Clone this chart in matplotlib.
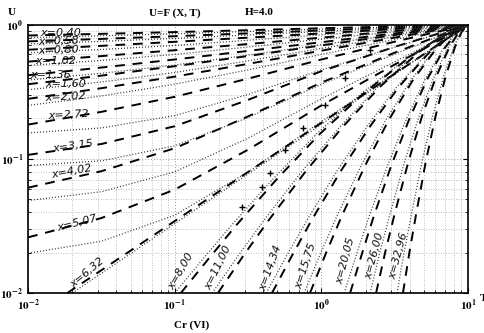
import matplotlib
matplotlib.use("Agg")
import matplotlib.pyplot as plt
import numpy as np

plt.rcParams['font.family'] = ['Liberation Serif', 'DejaVu Serif']
plt.rcParams['mathtext.fontset'] = 'stix'

# ---- data ----
x_labels = ["x=0,40", "x=0,58", "x=0,80", "x=1,02", "x=1,36", "x=1,60", "x=2,02",
            "x=2,72", "x=3,15", "x=4,02", "x=5,07", "x=6,32", "x=8,00", "x=11,00",
            "x=14,34", "x=15,75", "x=20,05", "x=26,00", "x=32,96"]

C_left = [0.01, 0.0316, 0.1, 0.316, 1.0, 3.16, 10.0]
dash_U_left = [
    [0.83, 0.854, 0.88, 0.909, 0.94, 0.970, 1.0],
    [0.75, 0.783, 0.82, 0.861, 0.905, 0.951, 1.0],
    [0.65, 0.695, 0.745, 0.800, 0.86, 0.927, 1.0],
    [0.53, 0.583, 0.645, 0.717, 0.80, 0.894, 1.0],
    [0.42, 0.479, 0.55, 0.637, 0.74, 0.860, 1.0],
    [0.36, 0.417, 0.49, 0.584, 0.70, 0.837, 1.0],
    [0.28, 0.336, 0.41, 0.510, 0.64, 0.800, 1.0],
    [0.18, 0.224, 0.29, 0.396, 0.55, 0.746, 1.0],
    [0.107, 0.129, 0.175, 0.275, 0.45, 0.683, 1.0],
    [0.061, 0.0809, 0.12, 0.207, 0.37, 0.618, 1.0],
    [0.026, 0.0362, 0.059, 0.117, 0.25, 0.504, 1.0],
]
dot_U_left = [
    [0.80, 0.826, 0.855, 0.889, 0.925, 0.962, 1.0],
    [0.718, 0.751, 0.79, 0.837, 0.89, 0.944, 1.0],
    [0.617, 0.653, 0.70, 0.765, 0.84, 0.917, 1.0],
    [0.496, 0.541, 0.60, 0.681, 0.78, 0.885, 1.0],
    [0.386, 0.434, 0.50, 0.593, 0.71, 0.844, 1.0],
    [0.327, 0.374, 0.44, 0.537, 0.665, 0.816, 1.0],
    [0.250, 0.294, 0.36, 0.460, 0.60, 0.775, 1.0],
    [0.156, 0.170, 0.21, 0.302, 0.46, 0.679, 1.0],
    [0.0893, 0.0966, 0.125, 0.203, 0.36, 0.603, 1.0],
    [0.0489, 0.0569, 0.08, 0.1425, 0.28, 0.528, 1.0],
    [0.0198, 0.0243, 0.038, 0.0798, 0.19, 0.433, 1.0],
]

dash_C_632 = [0.0185, 0.43, 10.0]
dot_C_632 = [0.0200, 0.45, 10.0]
U_632 = [0.01, 0.1, 1.0]

U13 = [0.01, 0.0180, 0.0319, 0.0721, 0.154, 0.309, 0.568, 0.794, 1.0]
U14 = [0.01, 0.0188, 0.0344, 0.0805, 0.175, 0.347, 0.617, 0.832, 1.0]
U15 = [0.01, 0.0196, 0.0370, 0.0895, 0.196, 0.385, 0.664, 0.863, 1.0]
U155 = [0.01, 0.0200, 0.0384, 0.0942, 0.207, 0.404, 0.682, 0.879, 1.0]

dash_C_right = [
    [0.110, 0.170, 0.262, 0.505, 0.98, 1.95, 3.95, 6.30, 10.0],
    [0.197, 0.292, 0.433, 0.780, 1.41, 2.53, 4.56, 6.76, 10.0],
    [0.460, 0.627, 0.851, 1.35, 2.15, 3.40, 5.41, 7.35, 10.0],
    [0.836, 1.07, 1.37, 1.99, 2.89, 4.20, 6.08, 7.80, 10.0],
    [1.57, 1.89, 2.27, 3.00, 3.96, 5.22, 6.90, 8.31, 10.0],
    [2.36, 2.72, 3.15, 3.91, 4.85, 6.03, 7.48, 8.65, 10.0],
    [3.60, 3.98, 4.42, 5.14, 6.00, 7.00, 8.15, 9.03, 10.0],
]
dot_C_right = [
    [0.100, 0.156, 0.243, 0.475, 0.93, 1.89, 3.88, 6.25, 10.0],
    [0.180, 0.269, 0.402, 0.735, 1.35, 2.45, 4.48, 6.70, 10.0],
    [0.420, 0.577, 0.791, 1.27, 2.05, 3.29, 5.31, 7.28, 10.0],
    [0.762, 0.984, 1.27, 1.87, 2.76, 4.07, 5.97, 7.73, 10.0],
    [1.43, 1.74, 2.11, 2.83, 3.78, 5.05, 6.78, 8.24, 10.0],
    [2.15, 2.50, 2.93, 3.68, 4.63, 5.84, 7.35, 8.57, 10.0],
    [3.28, 3.66, 4.11, 4.84, 5.73, 6.78, 8.00, 8.95, 10.0],
]
U_right = [U13, U14, U14, U15, U15, U155, U155]

# experimental points (hand-marked crosses)
pts_C = [0.288, 0.394, 0.447, 0.565, 0.75, 1.06, 1.45, 2.14]
pts_U = [0.0438, 0.0618, 0.0786, 0.117, 0.170, 0.253, 0.402, 0.65]

# label anchors (data coords, lower-left of text) and rotation
lab_C = [0.0121, 0.0117, 0.0117, 0.0112, 0.0103, 0.0131, 0.0131, 0.0137, 0.0148,
         0.0146, 0.016, 0.021, 0.100, 0.180, 0.43, 0.75, 1.44, 2.25, 3.3]
lab_U = [0.80, 0.68, 0.585, 0.49, 0.39, 0.33, 0.26, 0.19, 0.108, 0.070, 0.028,
         0.0105, 0.0103, 0.0102, 0.0102, 0.0105, 0.0114, 0.0125, 0.0125]
lab_rot = [0, 2, 2, 0, 0, 0, 3, 3, 8, 10, 14, 40, 60, 64, 70, 72, 75, 75, 75]

fig = plt.figure(figsize=(4.85, 3.33), dpi=100)
ax = fig.add_axes([0.058, 0.12, 0.907, 0.806])
ax.set_xscale('log')
ax.set_yscale('log')
ax.set_xlim(0.01, 10)
ax.set_ylim(0.01, 1)

dash_kw = dict(color='black', lw=1.4, dashes=(5, 4))
dot_kw = dict(color='#333333', lw=0.9, dashes=(0.8, 1.6))

for U in dash_U_left:
    ax.plot(C_left, U, **dash_kw)
for U in dot_U_left:
    ax.plot(C_left, U, **dot_kw)
ax.plot(dash_C_632, U_632, **dash_kw)
ax.plot(dot_C_632, U_632, **dot_kw)
for Cs, U in zip(dash_C_right, U_right):
    ax.plot(Cs, U, **dash_kw)
for Cs, U in zip(dot_C_right, U_right):
    ax.plot(Cs, U, **dot_kw)

ax.plot(pts_C, pts_U, '+', color='black', ms=5, mew=1.0, ls='none')

for t, c, u, r in zip(x_labels, lab_C, lab_U, lab_rot):
    ax.text(c, u, t, fontsize=8, style='italic', rotation=r, family='DejaVu Sans',
            ha='left', va='bottom', rotation_mode='anchor', color='#111111')

ax.grid(True, which='major', color='#999999', ls=(0, (1, 2)), lw=0.7)
ax.grid(True, which='minor', color='#aaaaaa', ls=(0, (1, 2)), lw=0.6)
ax.tick_params(which='both', direction='in', top=False, right=True, labelsize=8)
ax.set_xticks([0.01, 0.1, 1, 10])
ax.set_xticklabels([r'$\mathbf{10^{-2}}$', r'$\mathbf{10^{-1}}$', r'$\mathbf{10^{0}}$', r'$\mathbf{10^{1}}$'])
ax.set_yticks([0.01, 0.1, 1])
ax.set_yticklabels([r'$\mathbf{10^{-2}}$', r'$\mathbf{10^{-1}}$', r'$\mathbf{10^{0}}$'])
for s in ax.spines.values():
    s.set_linewidth(1.2)

fig.text(0.024, 0.975, 'U', fontsize=8, fontweight='bold', ha='center', va='top')
fig.text(0.36, 0.975, 'U=F (X, T)', fontsize=8, fontweight='bold', ha='center', va='top')
fig.text(0.535, 0.975, 'H=4.0', fontsize=8, fontweight='bold', ha='center', va='top')
fig.text(0.395, 0.01, 'Cr (VI)', fontsize=8, fontweight='bold', ha='center', va='bottom')
fig.text(0.99, 0.105, 'T', fontsize=8, fontweight='bold', ha='left', va='center')

fig.savefig('out.png', dpi=100)
